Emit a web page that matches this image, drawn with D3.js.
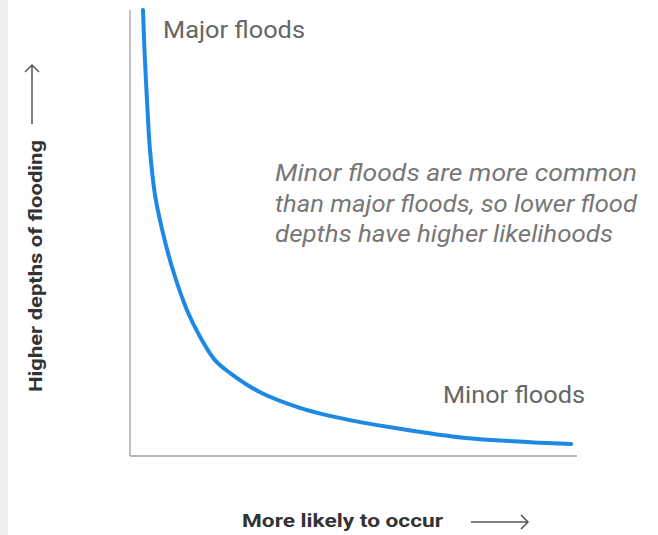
<!DOCTYPE html>
<html>
<head>
<meta charset="utf-8">
<script src="https://cdn.jsdelivr.net/npm/d3@7"></script>
<style>
  body { margin: 0; background: #fff; }
  svg { display: block; font-family: Roboto, "Noto Sans", sans-serif; }
</style>
</head>
<body>
<div id="chart"></div>
<script>
// Likelihood (x) vs flood depth (y), arbitrary 0-100 units
var likelihood = [2.9, 3.24, 3.8, 4.47, 5.6, 7.2, 9.6, 12.75, 15.7, 19.0, 22.4, 29.1, 38.0, 44.7, 51.5, 59.7, 74.5, 89.5, 98.7];
var depth      = [100, 91.0, 79.8, 68.6, 58.5, 50.7, 41.7, 32.7, 26.7, 21.5, 18.6, 14.3, 10.8, 9.0, 7.6, 6.2, 4.1, 3.1, 2.7];

var labels = ["Major floods", "Minor floods"];
var note = [
  "Minor floods are more common",
  "than major floods, so lower flood",
  "depths have higher likelihoods"
];
var axisTitles = ["More likely to occur", "Higher depths of flooding"];

var width = 658, height = 535;
var margin = { top: 10, right: 81, bottom: 79, left: 130 };

var svg = d3.select("#chart").append("svg")
  .attr("width", width)
  .attr("height", height);

// faint grey strip at the left edge
svg.append("rect")
  .attr("x", 0).attr("y", 0)
  .attr("width", 8).attr("height", height)
  .attr("fill", "#efefef");

var x = d3.scaleLinear().domain([0, 100]).range([margin.left, width - margin.right]);
var y = d3.scaleLinear().domain([0, 100]).range([height - margin.bottom, margin.top]);

// axes: plain lines, no ticks
svg.append("line")
  .attr("x1", x(0)).attr("x2", x(0))
  .attr("y1", y(0)).attr("y2", y(100))
  .attr("stroke", "#9e9e9e").attr("stroke-width", 1.3);
svg.append("line")
  .attr("x1", x(0)).attr("x2", x(100))
  .attr("y1", y(0)).attr("y2", y(0))
  .attr("stroke", "#9e9e9e").attr("stroke-width", 1.3);

// the curve
var pts = likelihood.map(function(d, i) { return [d, depth[i]]; });
var line = d3.line()
  .x(function(d) { return x(d[0]); })
  .y(function(d) { return y(d[1]); })
  .curve(d3.curveCatmullRom.alpha(0.5));

svg.append("path")
  .datum(pts)
  .attr("d", line)
  .attr("fill", "none")
  .attr("stroke", "#1e88e5")
  .attr("stroke-width", 4)
  .attr("stroke-linecap", "round");

// the source text is a little stretched sideways, so widths are pinned
function label(x0, y0, txt, size, w) {
  return svg.append("text")
    .attr("x", x0).attr("y", y0)
    .attr("font-size", size)
    .attr("textLength", w).attr("lengthAdjust", "spacingAndGlyphs")
    .text(txt);
}

label(163, 38, labels[0], 23, 142).attr("fill", "#666");
label(443, 403, labels[1], 23, 142).attr("fill", "#666");

// annotation
var noteW = [362, 362, 338];
svg.append("text")
  .attr("font-size", 23).attr("font-style", "italic").attr("fill", "#777")
  .selectAll("tspan")
  .data(note)
  .enter().append("tspan")
  .attr("x", 275)
  .attr("y", function(d, i) { return 181 + i * 30.5; })
  .attr("textLength", function(d, i) { return noteW[i]; })
  .attr("lengthAdjust", "spacingAndGlyphs")
  .text(function(d) { return d; });

// axis titles with arrows
label(242, 527, axisTitles[0], 19, 201)
  .attr("font-weight", "bold").attr("fill", "#333");

svg.append("text")
  .attr("transform", "translate(42,392) rotate(-90)")
  .attr("font-size", 19).attr("font-weight", "bold").attr("fill", "#333")
  .attr("textLength", 252).attr("lengthAdjust", "spacingAndGlyphs")
  .text(axisTitles[1]);

var arrow = svg.append("g")
  .attr("fill", "none").attr("stroke", "#555").attr("stroke-width", 1.5);
// horizontal arrow
arrow.append("path").attr("d", "M471,522 H528 M521,515 L528,522 L521,529");
// vertical arrow
arrow.append("path").attr("d", "M32,124 V65 M25,72 L32,65 L39,72");
</script>
</body>
</html>
